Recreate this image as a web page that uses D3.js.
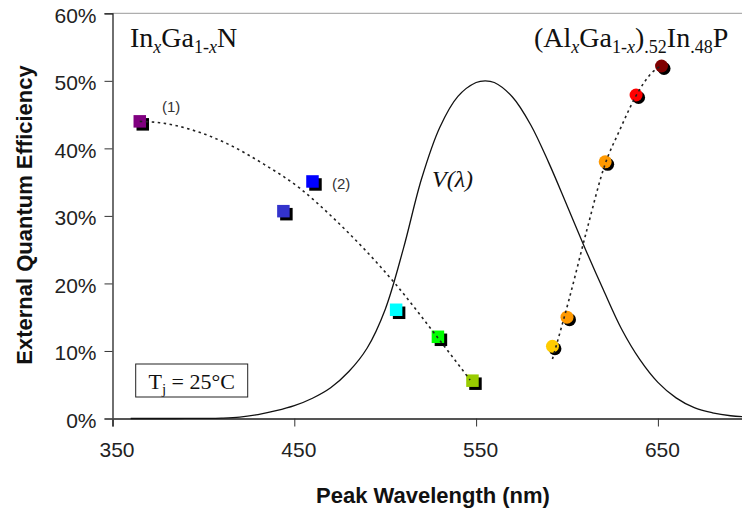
<!DOCTYPE html>
<html>
<head>
<meta charset="utf-8">
<script src="https://cdn.jsdelivr.net/npm/d3@7"></script>
<style>
  html, body { margin: 0; padding: 0; background: #fff; }
  svg { display: block; }
</style>
</head>
<body>
<svg id="chart" width="742" height="510"></svg>
<script>
// Axis ticks
const xTicks = [350, 450, 550, 650];
const yTicks = [0, 0.1, 0.2, 0.3, 0.4, 0.5, 0.6];

// InGaN LEDs (squares)
const inganWavelength = [365, 444, 460, 506, 529, 548];
const inganEqe = [0.440, 0.307, 0.351, 0.161, 0.121, 0.056];
const inganColors = ["#800080", "#3333CC", "#0000FF", "#00FFFF", "#00FF00", "#99CC00"];

// AlGaInP LEDs (circles)
const algainpWavelength = [592, 600, 621, 638, 652];
const algainpEqe = [0.107, 0.150, 0.380, 0.479, 0.522];
const algainpColors = ["#FFCC00", "#FF9900", "#FF9900", "#FF0000", "#800000"];

// Trend lines through each family
const inganFitWavelength = [365, 376, 396.5, 413, 433, 453, 471, 506, 528.5, 546.7];
const inganFitEqe = [0.440, 0.438, 0.425, 0.407, 0.377, 0.341, 0.298, 0.198, 0.121, 0.057];
const algainpFitWavelength = [592, 601, 611, 621, 629, 638, 646, 652];
const algainpFitEqe = [0.088, 0.175, 0.280, 0.377, 0.427, 0.478, 0.510, 0.523];

// Eye sensitivity V(λ), photopic, drawn at half scale
const vWavelength = [360, 370, 380, 390, 400, 410, 420, 430, 440, 450, 460, 470, 480, 490, 500,
  510, 520, 530, 540, 550, 555, 560, 570, 580, 590, 600, 610, 620, 630, 640, 650, 660, 670, 680,
  690, 700, 710, 720, 730];
const vValue = [0.0000020, 0.0000060, 0.0000200, 0.0000600, 0.0002000, 0.0006000, 0.0020000,
  0.0058000, 0.0115000, 0.0190000, 0.0300000, 0.0455000, 0.0695000, 0.1040000, 0.1615000,
  0.2515000, 0.3550000, 0.4310000, 0.4770000, 0.4975000, 0.5000000, 0.4975000, 0.4760000,
  0.4350000, 0.3785000, 0.3155000, 0.2515000, 0.1905000, 0.1325000, 0.0875000, 0.0535000,
  0.0305000, 0.0160000, 0.0085000, 0.0041000, 0.0020500, 0.0010500, 0.0005250, 0.0002600];

const svg = d3.select("#chart");
const sans = "'Liberation Sans', Arial, sans-serif";
const serif = "'Liberation Serif', 'Times New Roman', serif";

const x = d3.scaleLinear().domain([350, 700]).range([112.5, 748.8]);
const y = d3.scaleLinear().domain([0, 0.6]).range([418.5, 13.3]);

// plot frame: top border
svg.append("line")
  .attr("x1", x(350)).attr("x2", 742)
  .attr("y1", y(0.6)).attr("y2", y(0.6))
  .attr("stroke", "#9a9a9a").attr("stroke-width", 1);

// y axis
const yAxis = svg.append("g")
  .attr("transform", `translate(${x(350)},0)`)
  .call(d3.axisLeft(y).tickValues(yTicks).tickSize(8).tickPadding(8)
    .tickFormat(d3.format(".0%")));
yAxis.select(".domain").attr("stroke", "#111").attr("stroke-width", 1.2);
yAxis.selectAll(".tick line").attr("stroke", "#333");
yAxis.selectAll(".tick text")
  .attr("font-family", sans).attr("font-size", 21).attr("fill", "#222")
  .attr("dy", "0.42em");

// x axis
const xAxis = svg.append("g")
  .attr("transform", `translate(0,${y(0)})`)
  .call(d3.axisBottom(x).tickValues(xTicks).tickSize(8).tickPadding(16)
    .tickFormat(d3.format("d")));
xAxis.select(".domain").attr("stroke", "#555").attr("stroke-width", 2);
xAxis.selectAll(".tick line").attr("stroke", "#333");
xAxis.selectAll(".tick text")
  .attr("font-family", sans).attr("font-size", 21).attr("fill", "#222")
  .attr("dx", 4);

// axis titles
svg.append("text")
  .attr("transform", "translate(32,215) rotate(-90)")
  .attr("text-anchor", "middle")
  .attr("font-family", sans).attr("font-size", 22).attr("font-weight", "bold")
  .attr("fill", "#111")
  .text("External Quantum Efficiency");
svg.append("text")
  .attr("x", 433).attr("y", 503)
  .attr("text-anchor", "middle")
  .attr("font-family", sans).attr("font-size", 22).attr("font-weight", "bold")
  .attr("fill", "#111")
  .text("Peak Wavelength (nm)");

// V(λ) curve
const vLine = d3.line()
  .x((d, i) => x(vWavelength[i]))
  .y((d, i) => y(vValue[i]))
  .curve(d3.curveCatmullRom);
svg.append("path")
  .attr("d", vLine(vWavelength))
  .attr("fill", "none").attr("stroke", "#111").attr("stroke-width", 1.3);

// markers with drop shadows
const sq = 12.5, off = 3;
const ingan = inganWavelength.map((w, i) => ({ w, e: inganEqe[i], c: inganColors[i] }));
svg.append("g").selectAll("rect").data(ingan).join("rect")
  .attr("x", d => x(d.w) - sq / 2 + off).attr("y", d => y(d.e) - sq / 2 + off)
  .attr("width", sq).attr("height", sq).attr("fill", "#000");
svg.append("g").selectAll("rect").data(ingan).join("rect")
  .attr("x", d => x(d.w) - sq / 2).attr("y", d => y(d.e) - sq / 2)
  .attr("width", sq).attr("height", sq).attr("fill", d => d.c);

const r = 6.5, coff = 2.5;
const algainp = algainpWavelength.map((w, i) => ({ w, e: algainpEqe[i], c: algainpColors[i] }));
svg.append("g").selectAll("circle").data(algainp).join("circle")
  .attr("cx", d => x(d.w) + coff).attr("cy", d => y(d.e) + coff)
  .attr("r", r).attr("fill", "#000");
svg.append("g").selectAll("circle").data(algainp).join("circle")
  .attr("cx", d => x(d.w)).attr("cy", d => y(d.e))
  .attr("r", r).attr("fill", d => d.c);

// dotted trend lines
function fitPath(ws, es) {
  return d3.line().x((d, i) => x(ws[i])).y((d, i) => y(es[i])).curve(d3.curveMonotoneX)(ws);
}
[[inganFitWavelength, inganFitEqe], [algainpFitWavelength, algainpFitEqe]].forEach(([ws, es]) => {
  svg.append("path")
    .attr("d", fitPath(ws, es))
    .attr("fill", "none").attr("stroke", "#222").attr("stroke-width", 1.6)
    .attr("stroke-dasharray", "2.5,3.5");
});

// chemical formula labels
function formula(xPos, yPos, parts) {
  const t = svg.append("text")
    .attr("x", xPos).attr("y", yPos)
    .attr("font-family", serif).attr("font-size", 28).attr("fill", "#111");
  let shifted = false;
  parts.forEach(p => {
    const dy = (p.sub ? 6 : 0) - (shifted ? 6 : 0);
    shifted = !!p.sub;
    t.append("tspan")
      .attr("dy", dy)
      .attr("font-size", p.sub ? 18 : 28)
      .attr("font-style", p.it ? "italic" : "normal")
      .text(p.t);
  });
}
formula(130, 46.7, [
  { t: "In" }, { t: "x", sub: true, it: true }, { t: "Ga" },
  { t: "1-", sub: true }, { t: "x", sub: true, it: true }, { t: "N" }
]);
formula(534, 46.7, [
  { t: "(Al" }, { t: "x", sub: true, it: true }, { t: "Ga" },
  { t: "1-", sub: true }, { t: "x", sub: true, it: true }, { t: ")" },
  { t: ".52", sub: true }, { t: "In" }, { t: ".48", sub: true }, { t: "P" }
]);

// V(λ) label
svg.append("text")
  .attr("x", 432).attr("y", 187)
  .attr("font-family", serif).attr("font-size", 24).attr("font-style", "italic")
  .attr("fill", "#111")
  .text("V(λ)");

// point labels
svg.append("text").attr("x", 162).attr("y", 112)
  .attr("font-family", sans).attr("font-size", 15).attr("fill", "#333").text("(1)");
svg.append("text").attr("x", 332).attr("y", 188.5)
  .attr("font-family", sans).attr("font-size", 15).attr("fill", "#333").text("(2)");

// junction temperature note
svg.append("rect")
  .attr("x", 135.7).attr("y", 364).attr("width", 112).attr("height", 33)
  .attr("fill", "#fff").attr("stroke", "#222").attr("stroke-width", 1);
const tj = svg.append("text")
  .attr("x", 191.7).attr("y", 389).attr("text-anchor", "middle")
  .attr("font-family", serif).attr("font-size", 22).attr("fill", "#111");
tj.append("tspan").text("T");
tj.append("tspan").attr("font-size", 15).attr("dy", 5).text("j");
tj.append("tspan").attr("dy", -5).text(" = 25°C");
</script>
</body>
</html>
